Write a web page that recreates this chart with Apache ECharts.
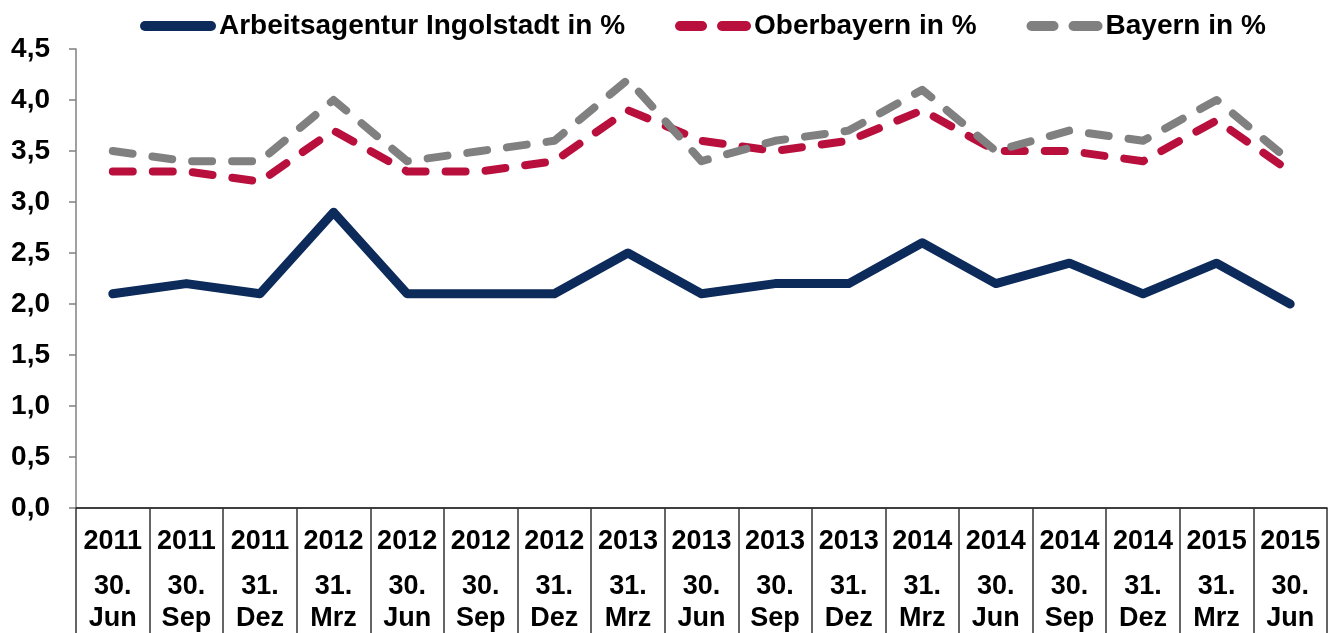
<!DOCTYPE html>
<html>
<head>
<meta charset="utf-8">
<script src="https://cdn.jsdelivr.net/npm/echarts@6/dist/echarts.min.js"></script>
<style>
  html, body { margin: 0; padding: 0; background: #fff; }
  #chart { width: 1337px; height: 633px; }
</style>
</head>
<body>
<div id="chart"></div>
<script>
  const years = ['2011', '2011', '2011', '2012', '2012', '2012', '2012', '2013', '2013', '2013', '2013', '2014', '2014', '2014', '2014', '2015', '2015']
  const days = ['30.', '30.', '31.', '31.', '30.', '30.', '31.', '31.', '30.', '30.', '31.', '31.', '30.', '30.', '31.', '31.', '30.']
  const months = ['Jun', 'Sep', 'Dez', 'Mrz', 'Jun', 'Sep', 'Dez', 'Mrz', 'Jun', 'Sep', 'Dez', 'Mrz', 'Jun', 'Sep', 'Dez', 'Mrz', 'Jun']
  const ingolstadt = [2.1, 2.2, 2.1, 2.9, 2.1, 2.1, 2.1, 2.5, 2.1, 2.2, 2.2, 2.6, 2.2, 2.4, 2.1, 2.4, 2.0]
  const oberbayern = [3.3, 3.3, 3.2, 3.7, 3.3, 3.3, 3.4, 3.9, 3.6, 3.5, 3.6, 3.9, 3.5, 3.5, 3.4, 3.8, 3.3]
  const bayern = [3.5, 3.4, 3.4, 4.0, 3.4, 3.5, 3.6, 4.2, 3.4, 3.6, 3.7, 4.1, 3.5, 3.7, 3.6, 4.0, 3.4]
  const seriesNames = ['Arbeitsagentur Ingolstadt in %', 'Oberbayern in %', 'Bayern in %']

  const font = '"Liberation Sans", Arial, sans-serif'
  const categories = years.map((y, i) => y + '|' + days[i] + '|' + months[i])

  // legend icons: one long rounded bar, or two rounded dashes
  const solidIcon = 'path://M5 0H71A5 5 0 0 1 71 10H5A5 5 0 0 1 5 0Z'
  const dashIcon = 'path://M5 0H27A5 5 0 0 1 27 10H5A5 5 0 0 1 5 0ZM47 0H71A5 5 0 0 1 71 10H47A5 5 0 0 1 47 0Z'

  const chart = echarts.init(document.getElementById('chart'))
  const dashed = (name, data, color) => ({
    name: name,
    type: 'line',
    symbol: 'none',
    data: data,
    lineStyle: { color: color, width: 8, type: [20, 20], cap: 'round', join: 'round' },
    itemStyle: { color: color }
  })

  chart.setOption({
    animation: false,
    textStyle: { fontFamily: font },
    legend: {
      top: 7,
      left: 135,
      itemWidth: 76,
      itemHeight: 10,
      itemGap: 50,
      data: [
        { name: seriesNames[0], icon: solidIcon },
        { name: seriesNames[1], icon: dashIcon },
        { name: seriesNames[2], icon: dashIcon }
      ],
      textStyle: { fontSize: 28, fontWeight: 'bold', color: '#000', fontFamily: font, padding: [0, 0, 0, -2] }
    },
    grid: { left: 76, right: 10, top: 49, bottom: 125, containLabel: false },
    xAxis: {
      type: 'category',
      data: categories,
      boundaryGap: true,
      axisLine: { lineStyle: { color: '#000', width: 1.5 } },
      axisTick: { show: true, interval: 0, length: 125, lineStyle: { color: '#333', width: 1.5 } },
      axisLabel: {
        interval: 0,
        margin: 5,
        formatter: v => {
          const p = v.split('|')
          return '{y|' + p[0] + '}\n{d|' + p[1] + '}\n{d|' + p[2] + '}'
        },
        rich: {
          y: { fontSize: 27, fontWeight: 'bold', color: '#000', lineHeight: 58, fontFamily: font },
          d: { fontSize: 27, fontWeight: 'bold', color: '#000', lineHeight: 32, fontFamily: font }
        }
      }
    },
    yAxis: {
      type: 'value',
      min: 0,
      max: 4.5,
      interval: 0.5,
      splitLine: { show: false },
      axisLine: { show: true, lineStyle: { color: '#808080', width: 1.5 } },
      axisTick: { show: true, inside: false, length: 7, lineStyle: { color: '#808080', width: 1.5 } },
      axisLabel: {
        margin: 26,
        fontSize: 28,
        fontWeight: 'bold',
        color: '#000',
        fontFamily: font,
        formatter: v => v.toFixed(1).replace('.', ',')
      }
    },
    series: [
      {
        name: seriesNames[0],
        type: 'line',
        symbol: 'none',
        data: ingolstadt,
        z: 3,
        lineStyle: { color: '#0c2a5a', width: 9, cap: 'round', join: 'round' },
        itemStyle: { color: '#0c2a5a' }
      },
      dashed(seriesNames[1], oberbayern, '#b80f3c'),
      dashed(seriesNames[2], bayern, '#808080')
    ]
  })
</script>
</body>
</html>
